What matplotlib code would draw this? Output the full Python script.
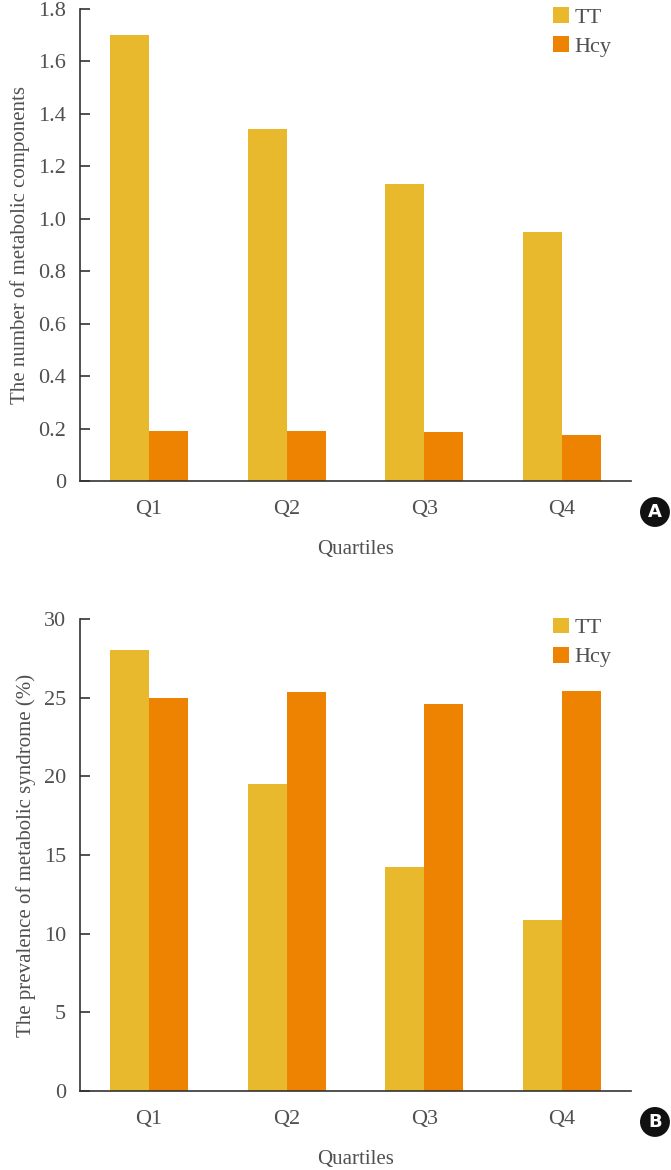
import numpy as np
import matplotlib
matplotlib.use("Agg")
import matplotlib.pyplot as plt

quartiles = ["Q1", "Q2", "Q3", "Q4"]
series_names = ["TT", "Hcy"]

# panel A: number of metabolic components
comp_tt = [1.70, 1.34, 1.13, 0.95]
comp_hcy = [0.19, 0.19, 0.185, 0.175]

# panel B: prevalence of metabolic syndrome (%)
prev_tt = [28.05, 19.5, 14.25, 10.85]
prev_hcy = [25.0, 25.35, 24.6, 25.45]

TT_COLOR = "#E9B92D"
HCY_COLOR = "#EE8201"
TEXT_COLOR = "#505050"

plt.rcParams["font.family"] = ["Liberation Serif", "DejaVu Serif"]

W, H = 671, 1170
fig = plt.figure(figsize=(W / 100, H / 100), dpi=100)


def px_axes(left, top, right, bottom):
    return fig.add_axes([left / W, 1 - bottom / H, (right - left) / W, (bottom - top) / H])


def draw_panel(ax, tt, hcy, ylim, yticks, yticklabels, ylabel, letter):
    x = np.arange(len(quartiles))
    width = 0.283
    ax.bar(x - width / 2, tt, width=width, color=TT_COLOR, label=series_names[0])
    ax.bar(x + width / 2, hcy, width=width, color=HCY_COLOR, label=series_names[1])
    ax.set_xlim(-0.5, 3.5)
    ax.set_ylim(*ylim)
    ax.set_yticks(yticks)
    ax.set_yticklabels(yticklabels)
    ax.set_xticks(x)
    ax.set_xticklabels(quartiles)
    for s in ["top", "right"]:
        ax.spines[s].set_visible(False)
    for s in ["left", "bottom"]:
        ax.spines[s].set_color("#333333")
        ax.spines[s].set_linewidth(1.2)
    ax.tick_params(axis="y", direction="in", length=7, width=1.2, color="#333333",
                   labelsize=16, labelcolor=TEXT_COLOR, pad=10)
    ax.tick_params(axis="x", length=0, labelsize=16, labelcolor=TEXT_COLOR, pad=14)
    ax.set_ylabel(ylabel, fontsize=15, color=TEXT_COLOR, labelpad=6)
    ax.set_xlabel("Quartiles", fontsize=15, color=TEXT_COLOR, labelpad=15)
    leg = ax.legend(loc="upper left", bbox_to_anchor=(0.858, 1.003), frameon=False,
                    fontsize=16, handlelength=0.72, handleheight=0.72, handletextpad=0.25,
                    labelspacing=0.38, borderaxespad=0, borderpad=0)
    for t in leg.get_texts():
        t.set_color(TEXT_COLOR)
    ax.text(1.0435, -0.0656, letter, transform=ax.transAxes, ha="center", va="center",
            fontsize=13, fontweight="bold", color="white", family="DejaVu Sans",
            bbox=dict(boxstyle="circle,pad=0.33", fc="#111111", ec="none"))


ax_a = px_axes(80, 8.6, 631, 481)
draw_panel(ax_a, comp_tt, comp_hcy, (0, 1.8), np.arange(0, 1.81, 0.2),
           ["0"] + [f"{v:.1f}" for v in np.arange(0.2, 1.81, 0.2)],
           "The number of metabolic components", "A")

ax_b = px_axes(80, 619, 631, 1091)
draw_panel(ax_b, prev_tt, prev_hcy, (0, 30), np.arange(0, 31, 5),
           [str(v) for v in range(0, 31, 5)],
           "The prevalence of metabolic syndrome (%)", "B")

fig.savefig("out.png", dpi=100)
